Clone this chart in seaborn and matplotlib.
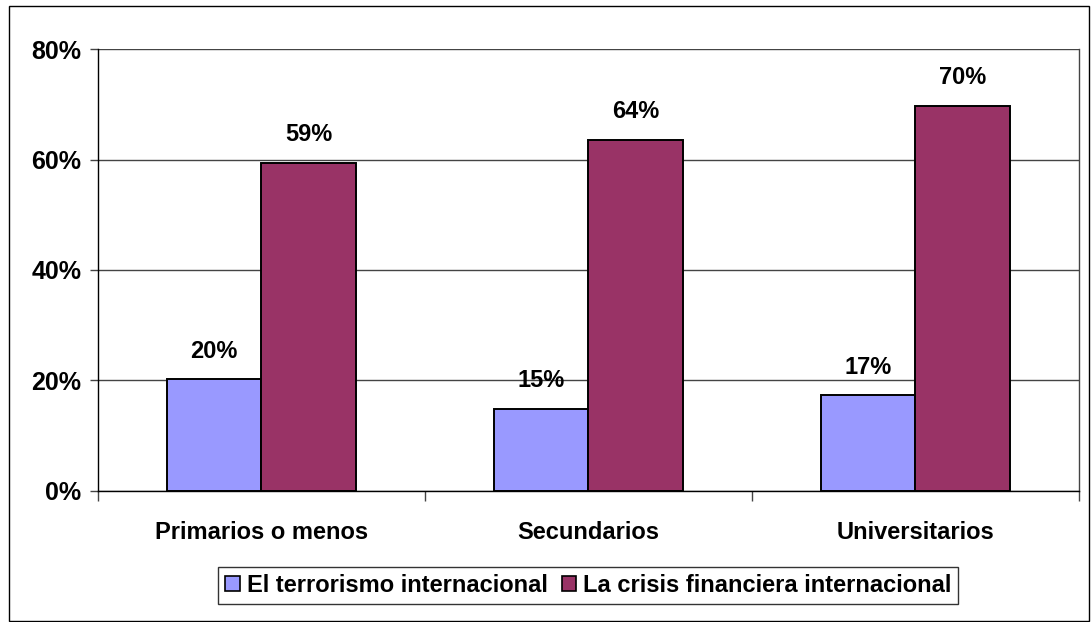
import pandas as pd
import matplotlib.pyplot as plt
import seaborn as sns
from matplotlib.ticker import FixedLocator, PercentFormatter

# Data
categorias = ['Primarios o menos', 'Secundarios', 'Universitarios']
terrorismo = [20.2, 14.8, 17.3]
crisis = [59.4, 63.6, 69.7]
etiquetas_terrorismo = ['20%', '15%', '17%']
etiquetas_crisis = ['59%', '64%', '70%']
series = ['El terrorismo internacional', 'La crisis financiera internacional']

df = pd.DataFrame({
    'categoria': categorias * 2,
    'serie': [series[0]] * 3 + [series[1]] * 3,
    'valor': terrorismo + crisis,
})

sns.set_style('white')
plt.rcParams['font.family'] = ['Liberation Sans', 'DejaVu Sans']
plt.rcParams['font.weight'] = 'bold'
plt.rcParams['text.color'] = 'black'
plt.rcParams['xtick.color'] = 'black'
plt.rcParams['ytick.color'] = 'black'

fig = plt.figure(figsize=(10.91, 6.22), dpi=100)
ax = fig.add_axes([0.0898, 0.211, 0.899, 0.710])

sns.barplot(data=df, x='categoria', y='valor', hue='serie', hue_order=series,
            palette=['#9999FF', '#993366'], width=0.58, saturation=1,
            edgecolor='black', linewidth=1.4, ax=ax, zorder=3)

# value labels
for cont, labs in zip(ax.containers, [etiquetas_terrorismo, etiquetas_crisis]):
    ax.bar_label(cont, labels=labs, padding=12, fontsize=17, fontweight='bold', color='black')

ax.set_ylim(0, 80)
ax.set_xlim(-0.5, 2.5)
ax.set_yticks([0, 20, 40, 60, 80])
ax.yaxis.set_major_formatter(PercentFormatter(decimals=0))
ax.yaxis.grid(True, color='#444444', linewidth=1, zorder=0)
ax.set_axisbelow(True)

# category ticks between groups, labels centered
ax.set_xticks([0, 1, 2])
ax.xaxis.set_minor_locator(FixedLocator([-0.5, 0.5, 1.5, 2.5]))
ax.tick_params(axis='x', which='major', length=0, pad=22, labelsize=17)
ax.tick_params(axis='x', which='minor', length=7, width=1, color='#444444', direction='out', bottom=True)
ax.tick_params(axis='y', length=6, width=1, color='#444444', direction='out', left=True, labelsize=18, pad=6)
ax.set_xlabel('')
ax.set_ylabel('')

for s in ['left', 'bottom']:
    ax.spines[s].set_color('black')
    ax.spines[s].set_linewidth(1)
ax.spines['top'].set_visible(False)
ax.spines['right'].set_color('#444444')
ax.spines['right'].set_linewidth(1)

leg = ax.legend(loc='upper center', bbox_to_anchor=(0.5, -0.172), ncol=2,
                frameon=True, fancybox=False, edgecolor='black', fontsize=17,
                handlelength=0.6, handleheight=0.6, handletextpad=0.3,
                columnspacing=0.6, borderpad=0.3, borderaxespad=0)
leg.get_frame().set_linewidth(1)
for h in leg.legend_handles:
    h.set_edgecolor('black')
    h.set_linewidth(1.2)

# outer border of the chart
fig.patches.append(plt.Rectangle((0.008, 0.002), 0.99, 0.988, transform=fig.transFigure,
                                 fill=False, edgecolor='black', linewidth=1))

fig.savefig('out.png', dpi=100)
